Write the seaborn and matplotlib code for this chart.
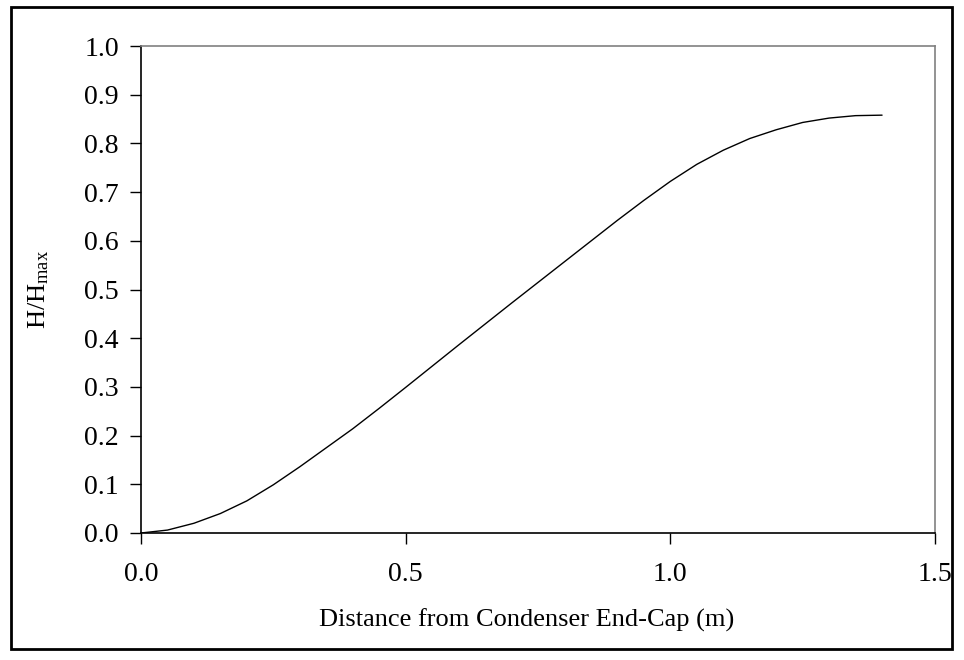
import matplotlib
matplotlib.use("Agg")
import matplotlib.pyplot as plt
import seaborn as sns
import pandas as pd

distance = [0.0, 0.05, 0.1, 0.15, 0.2, 0.25, 0.3, 0.35, 0.4, 0.45, 0.5, 0.6, 0.7,
            0.8, 0.9, 0.95, 1.0, 1.05, 1.1, 1.15, 1.2, 1.25, 1.3, 1.35, 1.4]
h_ratio = [0.0, 0.006, 0.020, 0.040, 0.066, 0.099, 0.136, 0.175, 0.214, 0.256,
           0.299, 0.386, 0.472, 0.557, 0.642, 0.683, 0.722, 0.757, 0.786, 0.810,
           0.828, 0.843, 0.852, 0.857, 0.858]
x_ticks = [0.0, 0.5, 1.0, 1.5]
y_ticks = [0.0, 0.1, 0.2, 0.3, 0.4, 0.5, 0.6, 0.7, 0.8, 0.9, 1.0]

sns.set_style("ticks")
plt.rcParams["font.family"] = ["Liberation Serif", "DejaVu Serif"]
plt.rcParams["mathtext.fontset"] = "custom"
plt.rcParams["mathtext.rm"] = "Liberation Serif"
plt.rcParams["mathtext.it"] = "Liberation Serif:italic"
plt.rcParams["text.color"] = "black"
plt.rcParams["axes.labelcolor"] = "black"
plt.rcParams["xtick.color"] = "black"
plt.rcParams["ytick.color"] = "black"

df = pd.DataFrame({"distance": distance, "h": h_ratio})

fig = plt.figure(figsize=(9.64, 6.6), dpi=100)
ax = fig.add_axes([141 / 964, 1 - 533 / 660, (935 - 141) / 964, (533 - 46) / 660])

sns.lineplot(data=df, x="distance", y="h", ax=ax, color="black", linewidth=1.0)

ax.set_xlim(0, 1.5)
ax.set_ylim(0, 1.0)
ax.set_xticks(x_ticks)
ax.set_yticks(y_ticks)
ax.set_xticklabels([f"{v:.1f}" for v in x_ticks])
ax.set_yticklabels([f"{v:.1f}" for v in y_ticks])
ax.tick_params(axis="both", direction="out", length=8, width=1, colors="black",
               labelsize=20, pad=8)
ax.tick_params(axis="x", pad=13)

for side in ["left", "bottom"]:
    ax.spines[side].set_color("black")
    ax.spines[side].set_linewidth(1.2)
for side in ["top", "right"]:
    ax.spines[side].set_visible(True)
    ax.spines[side].set_color("#808080")
    ax.spines[side].set_linewidth(1.2)

ax.set_xlabel("Distance from Condenser End-Cap (m)", fontsize=19)
ax.set_ylabel(r"H/H$_{\mathrm{max}}$", fontsize=19)
ax.xaxis.set_label_coords((527 - 141) / 794, -0.155)
ax.yaxis.set_label_coords(-0.113, 0.5)

# figure border
border = plt.Rectangle((11 / 964, 1 - 649 / 660), (952 - 11) / 964, (649 - 7) / 660,
                       transform=fig.transFigure, fill=False, edgecolor="black",
                       linewidth=2)
fig.patches.append(border)

fig.savefig("out.png", dpi=100)
